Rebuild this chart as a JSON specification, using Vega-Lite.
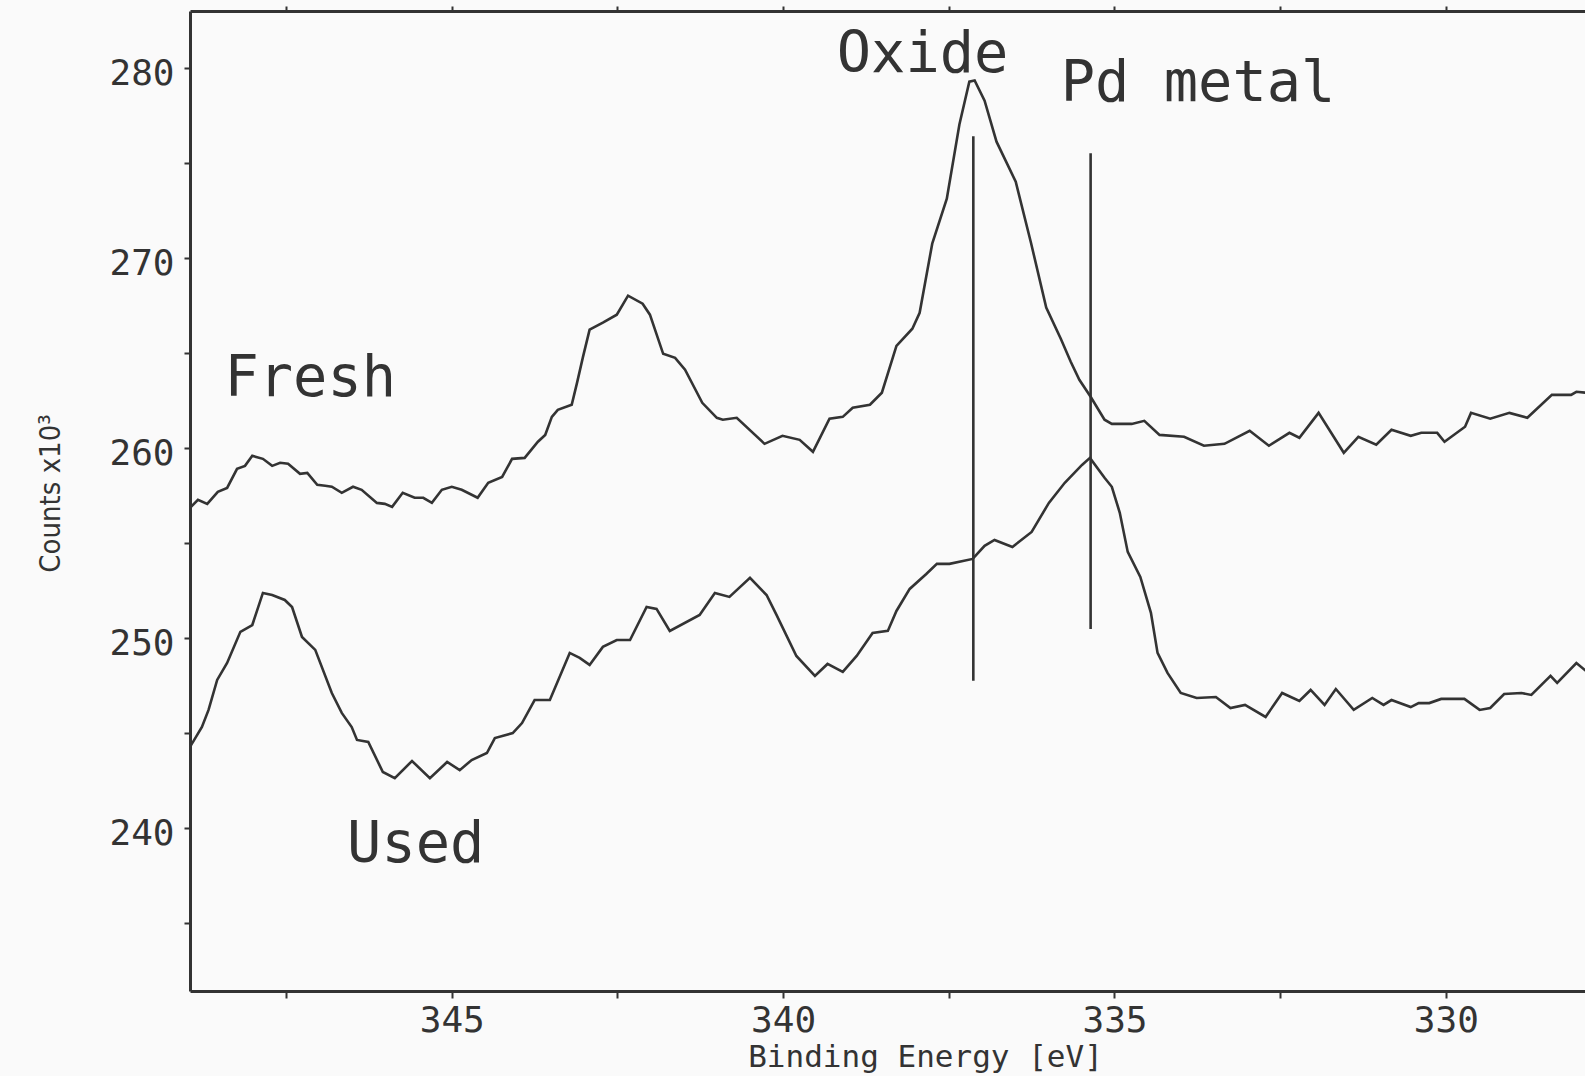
{
  "$schema": "https://vega.github.io/schema/vega-lite/v6.json",
  "autosize": "none",
  "width": 1395,
  "height": 980,
  "padding": {"left": 190, "top": 11, "right": 0, "bottom": 85},
  "background": "#fafafa",
  "config": {"view": {"stroke": null}},
  "datasets": {
    "spectra": [
      {"s":"Fresh","e":348.95,"c":256.84},{"s":"Fresh","e":348.83,"c":257.26},{"s":"Fresh","e":348.69,"c":257.05},{"s":"Fresh","e":348.53,"c":257.68},{"s":"Fresh","e":348.39,"c":257.89},{"s":"Fresh","e":348.24,"c":258.89},{"s":"Fresh","e":348.12,"c":259.05},{"s":"Fresh","e":348.01,"c":259.58},{"s":"Fresh","e":347.85,"c":259.42},{"s":"Fresh","e":347.71,"c":259.05},{"s":"Fresh","e":347.59,"c":259.21},{"s":"Fresh","e":347.47,"c":259.16},{"s":"Fresh","e":347.29,"c":258.63},{"s":"Fresh","e":347.18,"c":258.68},{"s":"Fresh","e":347.03,"c":258.05},{"s":"Fresh","e":346.91,"c":258.0},{"s":"Fresh","e":346.81,"c":257.95},{"s":"Fresh","e":346.66,"c":257.63},{"s":"Fresh","e":346.49,"c":257.95},{"s":"Fresh","e":346.36,"c":257.79},{"s":"Fresh","e":346.13,"c":257.1},{"s":"Fresh","e":346.01,"c":257.05},{"s":"Fresh","e":345.9,"c":256.89},{"s":"Fresh","e":345.74,"c":257.63},{"s":"Fresh","e":345.56,"c":257.37},{"s":"Fresh","e":345.43,"c":257.37},{"s":"Fresh","e":345.3,"c":257.1},{"s":"Fresh","e":345.15,"c":257.79},{"s":"Fresh","e":345.0,"c":257.95},{"s":"Fresh","e":344.85,"c":257.79},{"s":"Fresh","e":344.61,"c":257.37},{"s":"Fresh","e":344.45,"c":258.16},{"s":"Fresh","e":344.24,"c":258.47},{"s":"Fresh","e":344.09,"c":259.42},{"s":"Fresh","e":343.9,"c":259.47},{"s":"Fresh","e":343.7,"c":260.32},{"s":"Fresh","e":343.59,"c":260.68},{"s":"Fresh","e":343.49,"c":261.63},{"s":"Fresh","e":343.4,"c":262.0},{"s":"Fresh","e":343.19,"c":262.27},{"s":"Fresh","e":343.11,"c":263.42},{"s":"Fresh","e":343.02,"c":264.79},{"s":"Fresh","e":342.92,"c":266.22},{"s":"Fresh","e":342.72,"c":266.59},{"s":"Fresh","e":342.51,"c":267.01},{"s":"Fresh","e":342.34,"c":268.01},{"s":"Fresh","e":342.12,"c":267.59},{"s":"Fresh","e":342.01,"c":267.01},{"s":"Fresh","e":341.81,"c":264.95},{"s":"Fresh","e":341.63,"c":264.74},{"s":"Fresh","e":341.48,"c":264.11},{"s":"Fresh","e":341.22,"c":262.37},{"s":"Fresh","e":341.0,"c":261.58},{"s":"Fresh","e":340.91,"c":261.48},{"s":"Fresh","e":340.7,"c":261.58},{"s":"Fresh","e":340.28,"c":260.21},{"s":"Fresh","e":340.01,"c":260.63},{"s":"Fresh","e":339.75,"c":260.42},{"s":"Fresh","e":339.55,"c":259.79},{"s":"Fresh","e":339.3,"c":261.53},{"s":"Fresh","e":339.1,"c":261.63},{"s":"Fresh","e":338.95,"c":262.11},{"s":"Fresh","e":338.69,"c":262.27},{"s":"Fresh","e":338.51,"c":262.9},{"s":"Fresh","e":338.29,"c":265.37},{"s":"Fresh","e":338.05,"c":266.27},{"s":"Fresh","e":337.94,"c":267.11},{"s":"Fresh","e":337.75,"c":270.75},{"s":"Fresh","e":337.53,"c":273.12},{"s":"Fresh","e":337.34,"c":277.02},{"s":"Fresh","e":337.19,"c":279.28},{"s":"Fresh","e":337.11,"c":279.34},{"s":"Fresh","e":336.96,"c":278.28},{"s":"Fresh","e":336.78,"c":276.12},{"s":"Fresh","e":336.49,"c":274.01},{"s":"Fresh","e":336.26,"c":270.8},{"s":"Fresh","e":336.03,"c":267.38},{"s":"Fresh","e":335.81,"c":265.74},{"s":"Fresh","e":335.66,"c":264.53},{"s":"Fresh","e":335.53,"c":263.58},{"s":"Fresh","e":335.36,"c":262.69},{"s":"Fresh","e":335.15,"c":261.48},{"s":"Fresh","e":335.04,"c":261.26},{"s":"Fresh","e":334.74,"c":261.26},{"s":"Fresh","e":334.55,"c":261.42},{"s":"Fresh","e":334.32,"c":260.68},{"s":"Fresh","e":333.95,"c":260.58},{"s":"Fresh","e":333.65,"c":260.11},{"s":"Fresh","e":333.34,"c":260.21},{"s":"Fresh","e":332.96,"c":260.9},{"s":"Fresh","e":332.67,"c":260.11},{"s":"Fresh","e":332.36,"c":260.79},{"s":"Fresh","e":332.21,"c":260.53},{"s":"Fresh","e":331.92,"c":261.84},{"s":"Fresh","e":331.54,"c":259.74},{"s":"Fresh","e":331.32,"c":260.58},{"s":"Fresh","e":331.05,"c":260.16},{"s":"Fresh","e":330.82,"c":260.95},{"s":"Fresh","e":330.53,"c":260.63},{"s":"Fresh","e":330.37,"c":260.79},{"s":"Fresh","e":330.13,"c":260.79},{"s":"Fresh","e":330.02,"c":260.32},{"s":"Fresh","e":329.71,"c":261.11},{"s":"Fresh","e":329.62,"c":261.84},{"s":"Fresh","e":329.33,"c":261.53},{"s":"Fresh","e":329.04,"c":261.84},{"s":"Fresh","e":328.77,"c":261.58},{"s":"Fresh","e":328.4,"c":262.79},{"s":"Fresh","e":328.11,"c":262.79},{"s":"Fresh","e":328.03,"c":262.95},{"s":"Fresh","e":327.88,"c":262.9},
      {"s":"Used","e":348.95,"c":244.25},{"s":"Used","e":348.77,"c":245.3},{"s":"Used","e":348.67,"c":246.2},{"s":"Used","e":348.54,"c":247.78},{"s":"Used","e":348.39,"c":248.67},{"s":"Used","e":348.19,"c":250.31},{"s":"Used","e":348.01,"c":250.67},{"s":"Used","e":347.85,"c":252.36},{"s":"Used","e":347.71,"c":252.25},{"s":"Used","e":347.52,"c":251.99},{"s":"Used","e":347.41,"c":251.62},{"s":"Used","e":347.26,"c":250.04},{"s":"Used","e":347.06,"c":249.36},{"s":"Used","e":346.81,"c":247.09},{"s":"Used","e":346.66,"c":246.04},{"s":"Used","e":346.51,"c":245.3},{"s":"Used","e":346.43,"c":244.62},{"s":"Used","e":346.26,"c":244.51},{"s":"Used","e":346.04,"c":242.93},{"s":"Used","e":345.86,"c":242.61},{"s":"Used","e":345.6,"c":243.51},{"s":"Used","e":345.33,"c":242.61},{"s":"Used","e":345.07,"c":243.46},{"s":"Used","e":344.88,"c":243.03},{"s":"Used","e":344.7,"c":243.56},{"s":"Used","e":344.47,"c":243.93},{"s":"Used","e":344.35,"c":244.72},{"s":"Used","e":344.08,"c":244.98},{"s":"Used","e":343.94,"c":245.51},{"s":"Used","e":343.75,"c":246.72},{"s":"Used","e":343.52,"c":246.72},{"s":"Used","e":343.22,"c":249.2},{"s":"Used","e":343.07,"c":248.94},{"s":"Used","e":342.92,"c":248.57},{"s":"Used","e":342.72,"c":249.52},{"s":"Used","e":342.51,"c":249.88},{"s":"Used","e":342.31,"c":249.88},{"s":"Used","e":342.06,"c":251.62},{"s":"Used","e":341.91,"c":251.52},{"s":"Used","e":341.71,"c":250.36},{"s":"Used","e":341.26,"c":251.2},{"s":"Used","e":341.03,"c":252.36},{"s":"Used","e":340.81,"c":252.15},{"s":"Used","e":340.5,"c":253.15},{"s":"Used","e":340.25,"c":252.25},{"s":"Used","e":340.1,"c":251.2},{"s":"Used","e":339.8,"c":249.04},{"s":"Used","e":339.52,"c":247.99},{"s":"Used","e":339.33,"c":248.62},{"s":"Used","e":339.1,"c":248.2},{"s":"Used","e":338.89,"c":249.04},{"s":"Used","e":338.65,"c":250.25},{"s":"Used","e":338.42,"c":250.36},{"s":"Used","e":338.29,"c":251.41},{"s":"Used","e":338.09,"c":252.57},{"s":"Used","e":337.84,"c":253.36},{"s":"Used","e":337.68,"c":253.89},{"s":"Used","e":337.49,"c":253.89},{"s":"Used","e":337.14,"c":254.15},{"s":"Used","e":336.96,"c":254.84},{"s":"Used","e":336.81,"c":255.15},{"s":"Used","e":336.54,"c":254.78},{"s":"Used","e":336.25,"c":255.57},{"s":"Used","e":335.99,"c":257.1},{"s":"Used","e":335.75,"c":258.16},{"s":"Used","e":335.49,"c":259.1},{"s":"Used","e":335.37,"c":259.47},{"s":"Used","e":335.15,"c":258.42},{"s":"Used","e":335.04,"c":257.95},{"s":"Used","e":334.92,"c":256.58},{"s":"Used","e":334.8,"c":254.52},{"s":"Used","e":334.61,"c":253.2},{"s":"Used","e":334.45,"c":251.31},{"s":"Used","e":334.35,"c":249.2},{"s":"Used","e":334.2,"c":248.15},{"s":"Used","e":334.0,"c":247.09},{"s":"Used","e":333.76,"c":246.83},{"s":"Used","e":333.47,"c":246.88},{"s":"Used","e":333.25,"c":246.3},{"s":"Used","e":333.03,"c":246.46},{"s":"Used","e":332.72,"c":245.83},{"s":"Used","e":332.47,"c":247.09},{"s":"Used","e":332.21,"c":246.67},{"s":"Used","e":332.04,"c":247.25},{"s":"Used","e":331.83,"c":246.46},{"s":"Used","e":331.66,"c":247.3},{"s":"Used","e":331.39,"c":246.2},{"s":"Used","e":331.11,"c":246.83},{"s":"Used","e":330.94,"c":246.46},{"s":"Used","e":330.82,"c":246.72},{"s":"Used","e":330.53,"c":246.35},{"s":"Used","e":330.41,"c":246.56},{"s":"Used","e":330.25,"c":246.56},{"s":"Used","e":330.07,"c":246.78},{"s":"Used","e":329.72,"c":246.78},{"s":"Used","e":329.49,"c":246.2},{"s":"Used","e":329.33,"c":246.3},{"s":"Used","e":329.12,"c":247.04},{"s":"Used","e":328.86,"c":247.09},{"s":"Used","e":328.71,"c":246.99},{"s":"Used","e":328.42,"c":247.99},{"s":"Used","e":328.32,"c":247.62},{"s":"Used","e":328.03,"c":248.67},{"s":"Used","e":327.85,"c":248.15}
    ],
    "refs": [
      {"name":"Oxide","e":337.13,"y1":276.41,"y2":247.74},
      {"name":"Pd metal","e":335.36,"y1":275.51,"y2":250.46}
    ],
    "labels": [
      {"t":"Oxide","e":339.19,"c":279.77},
      {"t":"Pd metal","e":335.81,"c":278.28},
      {"t":"Fresh","e":348.43,"c":262.72},
      {"t":"Used","e":346.58,"c":238.21}
    ]
  },
  "resolve": {"axis": {"x": "independent"}},
  "layer": [
    {
      "data": {"name": "spectra"},
      "mark": {"type": "line", "color": "#333333", "strokeWidth": 2.6, "clip": true, "interpolate": "linear"},
      "encoding": {
        "x": {
          "field": "e", "type": "quantitative",
          "scale": {"domain": [327.9, 348.95], "reverse": true, "zero": false, "nice": false},
          "axis": {
            "orient": "bottom",
            "values": [347.5, 345, 342.5, 340, 337.5, 335, 332.5, 330],
            "labelExpr": "datum.value % 5 == 0 ? datum.label : ''",
            "grid": false,
            "domainColor": "#333333", "domainWidth": 3,
            "tickColor": "#333333", "tickWidth": 2, "tickSize": 7,
            "labelFont": "DejaVu Sans Mono", "labelFontSize": 36, "labelColor": "#333333",
            "labelPadding": 5, "labelBaseline": "top",
            "title": "Binding Energy [eV]",
            "titleFont": "DejaVu Sans Mono", "titleFontSize": 31, "titleFontWeight": "normal", "titleColor": "#333333",
            "titleX": 735, "titleY": 75, "titleAlign": "center", "titleBaseline": "alphabetic", "titleAnchor": null
          }
        },
        "y": {
          "field": "c", "type": "quantitative",
          "scale": {"domain": [231.4, 283.0], "zero": false, "nice": false},
          "axis": {
            "values": [235, 240, 245, 250, 255, 260, 265, 270, 275, 280],
            "labelExpr": "datum.value % 10 == 0 ? datum.label : ''",
            "grid": false,
            "domainColor": "#333333", "domainWidth": 3,
            "tickColor": "#333333", "tickWidth": 2, "tickSize": 6,
            "labelFont": "DejaVu Sans Mono", "labelFontSize": 36, "labelColor": "#333333",
            "labelPadding": 10, "labelOffset": 6,
            "title": "Counts x10³",
            "titleFont": "DejaVu Sans Condensed", "titleFontSize": 29, "titleFontWeight": "normal", "titleColor": "#333333",
            "titleAngle": 270, "titleX": -131, "titleY": 482, "titleAlign": "center", "titleBaseline": "alphabetic", "titleAnchor": null
          }
        },
        "detail": {"field": "s"}
      }
    },
    {
      "data": {"name": "refs"},
      "mark": {"type": "rule", "color": "#333333", "strokeWidth": 2.6},
      "encoding": {
        "x": {
          "field": "e", "type": "quantitative",
          "axis": {
            "orient": "top",
            "values": [347.5, 345, 342.5, 340, 337.5, 335, 332.5, 330],
            "labels": false, "title": null, "grid": false,
            "domainColor": "#333333", "domainWidth": 3,
            "tickColor": "#333333", "tickWidth": 2, "tickSize": 5
          }
        },
        "y": {"field": "y1", "type": "quantitative"},
        "y2": {"field": "y2"}
      }
    },
    {
      "data": {"name": "labels"},
      "mark": {"type": "text", "font": "DejaVu Sans Mono", "fontSize": 57, "color": "#333333", "align": "left", "baseline": "alphabetic"},
      "encoding": {
        "x": {"field": "e", "type": "quantitative", "axis": null},
        "y": {"field": "c", "type": "quantitative"},
        "text": {"field": "t"}
      }
    }
  ]
}
